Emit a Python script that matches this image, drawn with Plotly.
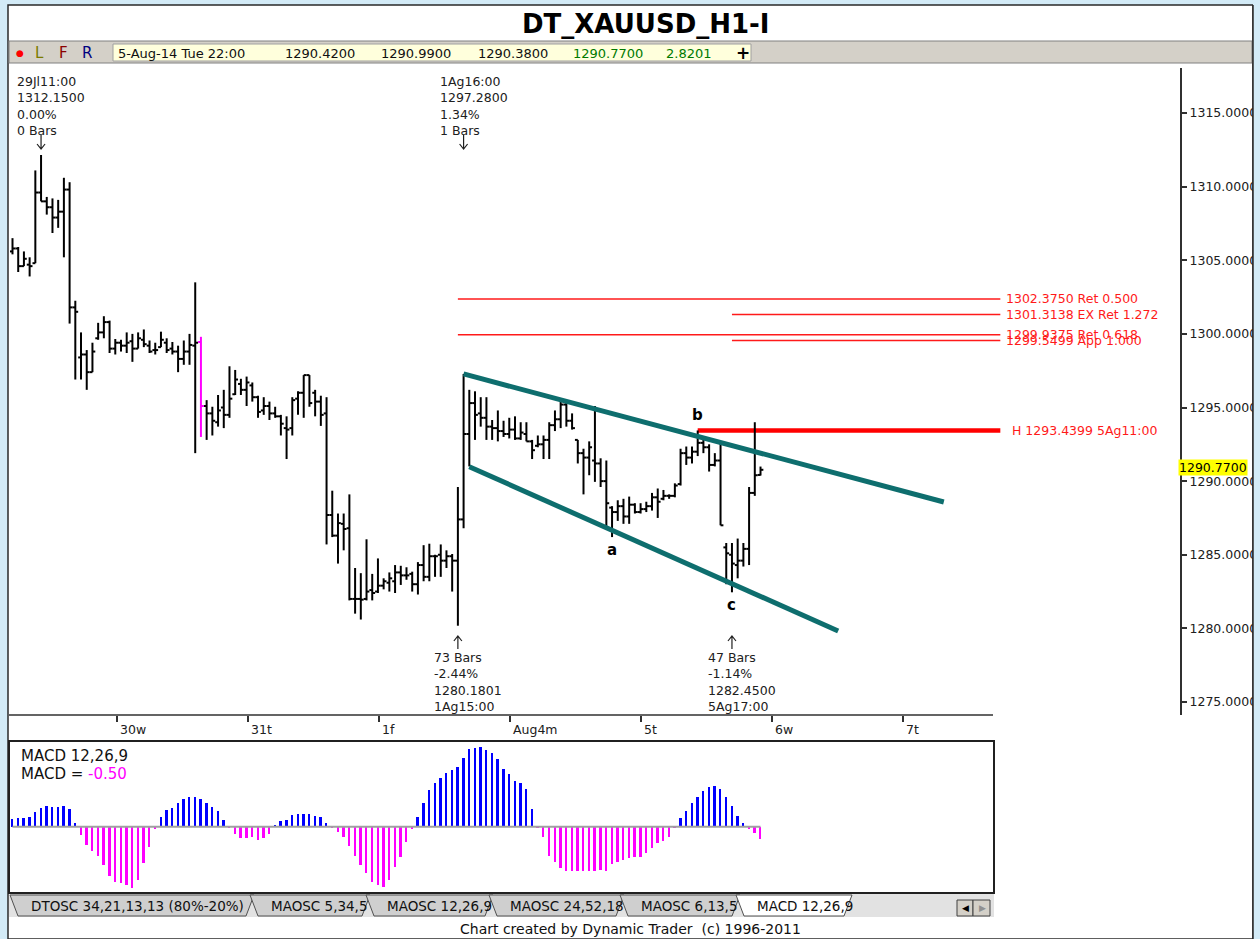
import plotly.graph_objects as go

W, H = 1260, 939
FONT = "DejaVu Sans"

# ---------------- data ----------------
bar_open = [1305.6, 1305.8, 1304.6, 1304.7, 1304.8, 1309.6, 1309.0, 1308.6, 1307.9, 1308.3,
            1309.8, 1301.8, 1298.4, 1298.6, 1297.4, 1299.7, 1300.1, 1300.8, 1299.0, 1299.4,
            1299.2, 1299.5, 1299.0, 1299.6, 1299.2, 1298.9, 1299.1, 1299.4, 1299.0, 1298.8,
            1298.3, 1298.8, 1299.2, 1299.45, 1295.1, 1294.6, 1294.0, 1295.0, 1294.5, 1295.9,
            1296.6, 1296.2, 1296.5, 1295.7, 1294.8, 1295.1, 1294.6, 1294.4, 1293.6, 1293.6,
            1295.6, 1296.0, 1297.2, 1296.0, 1295.4, 1294.6, 1287.7, 1286.3, 1287.1, 1286.8,
            1282.0, 1282.0, 1282.0, 1282.6, 1282.5, 1282.9, 1283.1, 1283.2, 1283.8, 1283.6,
            1283.7, 1283.0, 1284.3, 1283.5, 1284.9, 1285.0, 1284.6, 1284.9, 1284.6, 1287.4,
            1293.2, 1295.3, 1294.6, 1294.3, 1293.7, 1293.6, 1293.4, 1293.2, 1293.5, 1292.9,
            1293.2, 1292.7, 1292.4, 1292.5, 1292.8, 1293.8, 1294.2, 1295.2, 1294.1, 1292.8,
            1291.9, 1291.6, 1291.4, 1291.2, 1290.0, 1288.2, 1287.9, 1288.3, 1287.6, 1288.4,
            1287.9, 1288.1, 1288.3, 1288.9, 1288.8, 1289.0, 1289.0, 1289.8, 1291.9, 1291.6,
            1292.0, 1292.6, 1292.3, 1291.1, 1291.4, 1285.5, 1285.0, 1284.3, 1284.6, 1285.4,
            1289.2, 1290.42]
bar_high = [1306.5, 1305.9, 1305.6, 1305.2, 1311.1, 1312.15, 1309.3, 1309.2, 1309.1, 1310.6,
            1310.3, 1302.25, 1300.1, 1298.9, 1299.4, 1300.75, 1301.2, 1300.9, 1299.65, 1299.6,
            1300.1, 1300.0, 1300.1, 1300.3, 1299.55, 1299.4, 1300.15, 1299.7, 1299.45, 1299.2,
            1299.55, 1300.0, 1303.5, 1299.8, 1295.5, 1295.05, 1295.85, 1296.2, 1297.8, 1297.55,
            1296.95, 1297.1, 1296.7, 1295.8, 1295.7, 1295.4, 1295.05, 1294.5, 1294.4, 1295.7,
            1296.1, 1297.2, 1297.2, 1296.2, 1295.8, 1295.7, 1289.35, 1287.8, 1287.8, 1289.1,
            1284.1, 1283.75, 1286.05, 1283.7, 1284.75, 1283.4, 1283.8, 1284.3, 1284.25, 1284.15,
            1283.85, 1284.5, 1285.65, 1285.75, 1285.0, 1285.7, 1285.3, 1285.05, 1289.6, 1297.28,
            1296.2, 1296.1, 1295.7, 1295.7, 1294.15, 1294.8, 1294.1, 1294.3, 1294.4, 1294.0,
            1294.0, 1292.8, 1293.1, 1293.1, 1294.0, 1294.8, 1295.5, 1295.5, 1294.6, 1292.8,
            1292.2, 1292.7, 1295.1, 1291.55, 1291.4, 1288.3, 1288.7, 1288.8, 1288.95, 1288.5,
            1288.5, 1288.6, 1289.2, 1289.5, 1289.4, 1289.1, 1289.85, 1292.2, 1292.35, 1292.35,
            1293.44, 1292.8, 1292.5, 1291.9, 1292.6, 1285.8, 1285.8, 1286.1, 1285.8, 1289.6,
            1294.0, 1290.99]
bar_low = [1305.4, 1304.2, 1304.6, 1303.9, 1304.8, 1309.0, 1308.1, 1306.85, 1307.2, 1305.2,
           1300.7, 1296.9, 1296.9, 1296.2, 1297.4, 1299.6, 1299.7, 1298.7, 1298.6, 1298.8,
           1298.7, 1298.1, 1299.0, 1299.1, 1298.7, 1298.6, 1299.1, 1298.7, 1298.6, 1297.4,
           1297.9, 1297.9, 1291.9, 1293.0, 1292.8, 1293.1, 1293.7, 1293.6, 1294.3, 1295.85,
           1295.85, 1295.1, 1295.4, 1294.3, 1294.5, 1294.15, 1294.3, 1293.1, 1291.5, 1293.1,
           1294.5, 1294.3, 1295.05, 1294.4, 1293.75, 1285.7, 1286.2, 1284.4, 1285.3, 1281.9,
           1281.0, 1280.6, 1281.9, 1281.9, 1282.4, 1282.65, 1282.5, 1282.4, 1282.95, 1283.3,
           1282.5, 1282.3, 1283.2, 1283.2, 1283.5, 1283.5, 1284.1, 1282.5, 1280.18, 1286.8,
           1291.0, 1292.8, 1293.7, 1292.8, 1292.8, 1292.7, 1293.0, 1292.9, 1292.8, 1292.8,
           1292.7, 1291.5, 1292.3, 1291.5, 1291.5, 1293.4, 1293.6, 1293.7, 1293.5, 1291.2,
           1289.1, 1290.4, 1289.95, 1289.6, 1286.9, 1286.2, 1287.3, 1287.1, 1287.1, 1287.8,
           1287.8, 1287.9, 1288.0, 1287.5, 1288.7, 1288.8, 1288.9, 1289.7, 1291.1, 1291.2,
           1291.7, 1291.9, 1290.65, 1291.0, 1287.0, 1283.0, 1282.45, 1283.4, 1284.2, 1284.3,
           1289.0, 1290.38]
bar_close = [1305.8, 1304.6, 1305.1, 1304.6, 1309.6, 1309.0, 1308.6, 1307.9, 1308.3, 1309.8,
             1301.8, 1301.5, 1298.6, 1297.4, 1298.8, 1300.1, 1300.8, 1299.0, 1299.4, 1299.2,
             1299.4, 1299.0, 1299.7, 1299.3, 1298.8, 1298.9, 1299.6, 1298.9, 1298.8, 1298.3,
             1298.8, 1299.25, 1299.4, 1295.1, 1294.6, 1294.1, 1294.8, 1294.5, 1295.6, 1296.9,
             1296.2, 1296.7, 1295.7, 1294.7, 1295.1, 1294.6, 1294.4, 1293.9, 1293.5, 1295.5,
             1296.0, 1297.2, 1295.3, 1295.4, 1294.5, 1287.7, 1286.3, 1287.15, 1286.75, 1282.0,
             1282.0, 1281.95, 1282.5, 1282.4, 1282.9, 1283.2, 1283.4, 1283.8, 1283.6, 1283.6,
             1283.0, 1284.3, 1283.5, 1284.9, 1284.9, 1284.6, 1284.9, 1284.6, 1287.4, 1293.2,
             1295.3, 1294.5, 1294.3, 1293.7, 1293.6, 1293.4, 1293.2, 1293.5, 1292.9, 1293.3,
             1292.7, 1292.1, 1292.5, 1292.8, 1293.8, 1294.2, 1295.2, 1294.1, 1293.6, 1291.9,
             1291.6, 1292.3, 1291.2, 1290.0, 1288.5, 1287.9, 1288.3, 1287.6, 1288.4, 1287.9,
             1288.1, 1288.3, 1288.9, 1288.6, 1289.0, 1289.0, 1289.7, 1291.9, 1291.6, 1292.0,
             1292.6, 1292.3, 1291.1, 1291.4, 1287.0, 1285.1, 1284.4, 1284.6, 1285.4, 1289.2,
             1290.4, 1290.77]
highlight_bars = [33]

macd_hist = [0.31, 0.35, 0.37, 0.39, 0.60, 0.79, 0.86, 0.83, 0.83, 0.86,
             0.75, 0.14, -0.35, -0.76, -1.01, -1.21, -1.60, -2.04, -2.32, -2.36,
             -2.43, -2.57, -2.22, -1.53, -0.83, -0.10, 0.39, 0.69, 0.79, 0.97,
             1.14, 1.22, 1.25, 1.15, 0.97, 0.83, 0.67, 0.28, -0.07, -0.31,
             -0.46, -0.46, -0.42, -0.56, -0.49, -0.31, 0.05, 0.24, 0.28, 0.49,
             0.53, 0.53, 0.53, 0.44, 0.42, 0.14, -0.07, -0.21, -0.42, -0.80,
             -1.21, -1.60, -1.94, -2.29, -2.43, -2.50, -2.22, -1.67, -1.25, -0.63,
             -0.11, 0.42, 0.97, 1.53, 1.81, 2.01, 2.25, 2.36, 2.50, 2.85,
             3.22, 3.29, 3.33, 3.19, 3.06, 2.81, 2.39, 2.19, 1.92, 1.81,
             1.57, 0.74, -0.07, -0.42, -1.21, -1.46, -1.74, -1.83, -1.86, -1.86,
             -1.86, -1.86, -1.86, -1.81, -1.85, -1.56, -1.46, -1.39, -1.32, -1.28,
             -1.25, -1.08, -0.90, -0.69, -0.60, -0.42, -0.03, 0.35, 0.67, 0.97,
             1.25, 1.50, 1.64, 1.69, 1.57, 1.25, 0.86, 0.44, 0.14, -0.11,
             -0.28, -0.50]
macd_name = "MACD 12,26,9"
macd_last = "-0.50"

day_tick_pos = [18.3, 41.2, 64.2, 87.1, 110.0, 133.0, 155.9]
day_tick_labels = ["30w", "31t", "1f", "Aug4m", "5t", "6w", "7t"]
price_ticks = [1275, 1280, 1285, 1290, 1295, 1300, 1305, 1310, 1315]

fib_prices = [1302.3750, 1301.3138, 1299.9375, 1299.5499]
fib_labels = ["1302.3750 Ret 0.500", "1301.3138 EX Ret 1.272",
              "1299.9375 Ret 0.618", "1299.5499 App 1.000"]
fib_start_bar = [78, 126, 78, 126]
fib_end_bar = 173
high_line_price = 1293.4399
high_line_start = 120
high_line_label = "H 1293.4399 5Ag11:00"

chan_upper_x = [79.0, 163.1]
chan_upper_y = [1297.28, 1288.58]
chan_lower_x = [80.0, 144.6]
chan_lower_y = [1290.98, 1279.82]

last_price = 1290.77

pivot_top_bars = [5, 79]
pivot_top_text = ["29Jl11:00<br>1312.1500<br>0.00%<br>0 Bars",
                  "1Ag16:00<br>1297.2800<br>1.34%<br>1 Bars"]
pivot_bot_bars = [78, 126]
pivot_bot_text = ["73 Bars<br>-2.44%<br>1280.1801<br>1Ag15:00",
                  "47 Bars<br>-1.14%<br>1282.4500<br>5Ag17:00"]

wave_bars = [105, 120, 126]
wave_labels = ["a", "b", "c"]
wave_side = ["low", "high", "low"]

title_text = "DT_XAUUSD_H1-I"
toolbar_date = "5-Aug-14 Tue 22:00"
toolbar_values = ["1290.4200", "1290.9900", "1290.3800", "1290.7700", "2.8201"]
tab_labels = ["DTOSC 34,21,13,13 (80%-20%)", "MAOSC 5,34,5", "MAOSC 12,26,9",
              "MAOSC 24,52,18", "MAOSC 6,13,5", "MACD 12,26,9"]
footer_text = "Chart created by Dynamic Trader \u00a0(c) 1996-2011"

# ---------------- geometry ----------------
def fx(x):
    return x / W


def fy(y):
    return 1 - y / H


PX_PER_BAR = 5.71
FIRST_BAR_PX = 12.5
PRICE_PX_PER_UNIT = 14.725
REF_PRICE, REF_PRICE_PX = 1275.0, 702.0
main_l, main_r, main_t, main_b = 10, 1180, 68, 715
macd_l, macd_r, macd_t, macd_b = 10, 994, 742, 892
MACD_ZERO_PX, MACD_PX_PER_UNIT = 826.7, 24.0

x_min = -(FIRST_BAR_PX - main_l) / PX_PER_BAR
x_max = x_min + (main_r - main_l) / PX_PER_BAR
x2_max = x_min + (macd_r - macd_l) / PX_PER_BAR
y_min = REF_PRICE - (main_b - REF_PRICE_PX) / PRICE_PX_PER_UNIT
y_max = REF_PRICE + (REF_PRICE_PX - main_t) / PRICE_PX_PER_UNIT
y2_min = -(macd_b - MACD_ZERO_PX) / MACD_PX_PER_UNIT
y2_max = (MACD_ZERO_PX - macd_t) / MACD_PX_PER_UNIT

TICK = 0.5


def ohlc_path(idx):
    xs, ys = [], []
    for i in idx:
        xs += [i, i, None, i - TICK, i, None, i, i + TICK, None]
        ys += [bar_low[i], bar_high[i], None, bar_open[i], bar_open[i], None,
               bar_close[i], bar_close[i], None]
    return xs, ys


fig = go.Figure()

# fib / high lines (under bars)
for p, s in zip(fib_prices, fib_start_bar):
    fig.add_trace(go.Scatter(x=[s, fib_end_bar], y=[p, p], mode="lines",
                             line=dict(color="#FF1A1A", width=1.5), hoverinfo="skip"))
fig.add_trace(go.Scatter(x=[high_line_start, fib_end_bar], y=[high_line_price, high_line_price],
                         mode="lines", line=dict(color="#FF0000", width=4.5), hoverinfo="skip"))

n = len(bar_open)
normal = [i for i in range(n) if i not in highlight_bars]
xs, ys = ohlc_path(normal)
fig.add_trace(go.Scatter(x=xs, y=ys, mode="lines", line=dict(color="#000000", width=2),
                         hoverinfo="skip"))
xs, ys = ohlc_path(highlight_bars)
fig.add_trace(go.Scatter(x=xs, y=ys, mode="lines", line=dict(color="#FF00FF", width=2),
                         hoverinfo="skip"))

# channel lines
for cx, cy in [(chan_upper_x, chan_upper_y), (chan_lower_x, chan_lower_y)]:
    fig.add_trace(go.Scatter(x=cx, y=cy, mode="lines", line=dict(color="#0E6E6E", width=5),
                             hoverinfo="skip"))

# MACD panel
fig.add_trace(go.Scatter(x=[0, n - 1], y=[0, 0], mode="lines", xaxis="x2", yaxis="y2",
                         line=dict(color="#A0A0A0", width=2), hoverinfo="skip"))
fig.add_trace(go.Bar(x=list(range(n)), y=macd_hist, xaxis="x2", yaxis="y2", width=0.33,
                     marker=dict(color=["#0000FF" if v >= 0 else "#FF00FF" for v in macd_hist],
                                 line=dict(width=0)), hoverinfo="skip"))

shapes = []
# white window
shapes.append(dict(type="rect", xref="paper", yref="paper", x0=fx(8), x1=fx(1253), y0=fy(939),
                   y1=fy(5), fillcolor="white", line=dict(color="#2A2A2A", width=1.5),
                   layer="below"))
# toolbar
shapes.append(dict(type="rect", xref="paper", yref="paper", x0=fx(9), x1=fx(1252), y0=fy(63),
                   y1=fy(41), fillcolor="#D4D0C8", line=dict(color="#808080", width=1),
                   layer="below"))
shapes.append(dict(type="rect", xref="paper", yref="paper", x0=fx(113), x1=fx(751), y0=fy(61),
                   y1=fy(44), fillcolor="#FFFFDC", line=dict(color="#A0A0A0", width=1),
                   layer="below"))
# x axis line of price panel
shapes.append(dict(type="line", xref="paper", yref="paper", x0=fx(9), x1=fx(993), y0=fy(715),
                   y1=fy(715), line=dict(color="#303030", width=1.5)))
# MACD box
shapes.append(dict(type="rect", xref="paper", yref="paper", x0=fx(9), x1=fx(994), y0=fy(893),
                   y1=fy(741), line=dict(color="#202020", width=2), layer="above"))
# tab strip
shapes.append(dict(type="rect", xref="paper", yref="paper", x0=fx(9), x1=fx(994), y0=fy(917),
                   y1=fy(894), fillcolor="#E2E2E2", line=dict(width=0), layer="below"))
tab_edges = [(10, 254), (250, 370), (366, 493), (489, 624), (620, 740), (736, 852)]
for k, (a, b) in enumerate(tab_edges):
    active = k == len(tab_edges) - 1
    path = "M {} {} L {} {} L {} {} L {} {} Z".format(
        fx(a), fy(895), fx(a + 8), fy(916), fx(b - 8), fy(916), fx(b), fy(895))
    shapes.append(dict(type="path", xref="paper", yref="paper", path=path,
                       fillcolor="#FFFFFF" if active else "#CFCFCF",
                       line=dict(color="#505050", width=1), layer="above"))
for a, b in [(957, 973), (973, 990)]:
    shapes.append(dict(type="rect", xref="paper", yref="paper", x0=fx(a), x1=fx(b), y0=fy(916),
                       y1=fy(900), fillcolor="#D4D0C8", line=dict(color="#404040", width=1),
                       layer="above"))
# pivot arrows (thin arrows anchored at the pivot bars)
for b in pivot_top_bars:
    shapes.append(dict(type="path", xref="x", yref="paper", xsizemode="pixel", ysizemode="pixel",
                       xanchor=b, yanchor=fy(149), path="M 0 14 L 0 0 M -4 5 L 0 0 L 4 5",
                       line=dict(color="#202020", width=1.2)))
for b in pivot_bot_bars:
    shapes.append(dict(type="path", xref="x", yref="paper", xsizemode="pixel", ysizemode="pixel",
                       xanchor=b, yanchor=fy(636), path="M 0 -13 L 0 0 M -4 -5 L 0 0 L 4 -5",
                       line=dict(color="#202020", width=1.2)))
# clip right blue strip
shapes.append(dict(type="rect", xref="paper", yref="paper", x0=fx(1253), x1=1, y0=0, y1=1,
                   fillcolor="#D3EBF7", line=dict(width=0), layer="above"))
shapes.append(dict(type="line", xref="paper", yref="paper", x0=fx(1253), x1=fx(1253), y0=0,
                   y1=fy(5), line=dict(color="#2A2A2A", width=1.5), layer="above"))

ann = []


def A(**kw):
    d = dict(showarrow=False, xanchor="center", yanchor="middle",
             font=dict(family=FONT, size=12.5, color="#202020"))
    if "font" in kw:
        d["font"].update(kw.pop("font"))
    d.update(kw)
    ann.append(d)


# title
A(x=fx(646), y=fy(24), xref="paper", yref="paper", text="<b>%s</b>" % title_text,
  font=dict(size=26, color="#000000"))
# toolbar
A(x=fx(20), y=fy(53), xref="paper", yref="paper", text="\u25cf", font=dict(size=9, color="#FF0000"))
for t, xp, col in [("L", 39, "#7A7A00"), ("F", 63, "#8B0000"), ("R", 87, "#000080")]:
    A(x=fx(xp), y=fy(53), xref="paper", yref="paper", text=t, font=dict(size=15, color=col))
A(x=fx(116), y=fy(53), xref="paper", yref="paper", text=toolbar_date, xanchor="left",
  font=dict(size=13, color="#101010"))
for t, xp, col in zip(toolbar_values, [283, 379, 476, 571, 664],
                      ["#101010", "#101010", "#101010", "#007A00", "#007A00"]):
    A(x=fx(xp), y=fy(53), xref="paper", yref="paper", text=t, xanchor="left",
      font=dict(size=13, color=col))
A(x=fx(743), y=fy(53), xref="paper", yref="paper", text="<b>+</b>", font=dict(size=17, color="#000"))

# pivots
for b, t in zip(pivot_top_bars, pivot_top_text):
    A(x=b, xref="x", y=fy(72), yref="paper", text=t, xanchor="left", yanchor="top",
      xshift=-26, align="left")
for b, t in zip(pivot_bot_bars, pivot_bot_text):
    A(x=b, xref="x", y=fy(648), yref="paper", text=t, xanchor="left", yanchor="top",
      xshift=-26, align="left")

# wave labels
for b, t, side in zip(wave_bars, wave_labels, wave_side):
    if side == "low":
        A(x=b, xref="x", y=bar_low[b], yref="y", text="<b>%s</b>" % t, yshift=-13,
          font=dict(size=15, color="#000"))
    else:
        A(x=b, xref="x", y=bar_high[b], yref="y", text="<b>%s</b>" % t, yshift=15,
          font=dict(size=15, color="#000"))

# fib labels
for p, t in zip(fib_prices, fib_labels):
    A(x=fib_end_bar, xref="x", y=p, yref="y", text=t, xanchor="left", xshift=4,
      font=dict(color="#FF1A1A"))
A(x=fib_end_bar, xref="x", y=high_line_price, yref="y", text=high_line_label, xanchor="left",
  xshift=10, font=dict(color="#FF1A1A"))

# last price box
A(x=fx(1178), xref="paper", y=last_price, yref="y", text="%.4f" % last_price, xanchor="left",
  yshift=2, bgcolor="#FFFF00", borderpad=0, font=dict(color="#000"))

# x tick labels
for p, t in zip(day_tick_pos, day_tick_labels):
    A(x=p, xref="x", y=fy(729), yref="paper", text=t, xanchor="left", xshift=1)

# MACD labels
A(x=fx(19), y=fy(756), xref="paper", yref="paper", text=macd_name, xanchor="left",
  font=dict(size=15, color="#101010"))
A(x=fx(19), y=fy(774), xref="paper", yref="paper",
  text="MACD = <span style='color:#FF00FF'>%s</span>" % macd_last, xanchor="left",
  font=dict(size=15, color="#101010"))

# tabs text
for (a, b), t in zip(tab_edges, tab_labels):
    A(x=fx(a + 19), y=fy(906), xref="paper", yref="paper", text=t, xanchor="left",
      font=dict(size=13.5, color="#101010"))
A(x=fx(965), y=fy(908), xref="paper", yref="paper", text="\u25c0", font=dict(size=9, color="#000"))
A(x=fx(982), y=fy(908), xref="paper", yref="paper", text="\u25b6", font=dict(size=9, color="#909090"))

# footer
A(x=fx(630), y=fy(929), xref="paper", yref="paper", text=footer_text,
  font=dict(size=14, color="#101010"))

fig.update_layout(
    width=W, height=H, margin=dict(l=0, r=0, t=0, b=0),
    paper_bgcolor="#D3EBF7", plot_bgcolor="rgba(0,0,0,0)", showlegend=False,
    shapes=shapes, annotations=ann, bargap=0,
    xaxis=dict(domain=[fx(main_l), fx(main_r)], range=[x_min, x_max], anchor="y",
               showgrid=False, zeroline=False, showline=False, ticks="outside",
               tickvals=day_tick_pos, showticklabels=False, ticklen=6, tickwidth=1.5,
               tickcolor="#303030", fixedrange=True),
    yaxis=dict(domain=[fy(main_b), fy(main_t)], range=[y_min, y_max], anchor="x",
               side="right", showgrid=False, zeroline=False, showline=True,
               linecolor="#303030", linewidth=2, ticks="outside", ticklen=5,
               tickwidth=1.5, tickcolor="#303030", tickvals=price_ticks,
               tickformat=".4f", tickfont=dict(family=FONT, size=12.5, color="#202020"),
               fixedrange=True),
    xaxis2=dict(domain=[fx(macd_l), fx(macd_r)], range=[x_min, x2_max], anchor="y2",
                visible=False, fixedrange=True),
    yaxis2=dict(domain=[fy(macd_b), fy(macd_t)], range=[y2_min, y2_max], anchor="x2",
                visible=False, fixedrange=True),
)

fig.write_html("out.html", config={"displayModeBar": False},
               post_script="document.body.style.margin='0px';")
